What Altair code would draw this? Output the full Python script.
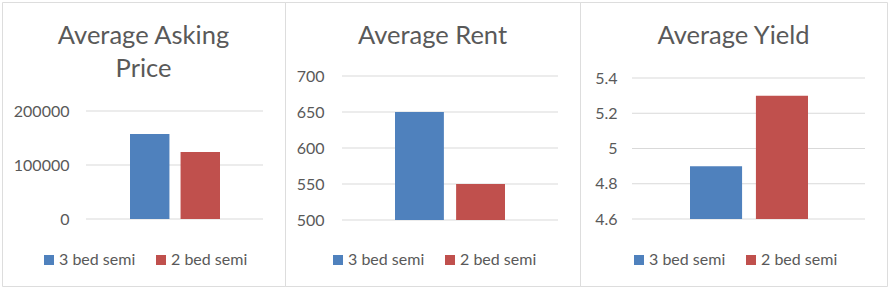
import altair as alt
import pandas as pd

series = ["3 bed semi", "2 bed semi"]
colors = ["#4F81BD", "#C0504D"]

titles = ["Average Asking\nPrice", "Average Rent", "Average Yield"]

price_values = [157400, 124100]
rent_values = [650, 550]
yield_values = [4.9, 5.3]

price_ticks = [0, 100000, 200000]
rent_ticks = [500, 550, 600, 650, 700]
yield_ticks = [4.6, 4.8, 5.0, 5.2, 5.4]

FONT = "Lato"
GREY = "#595959"


def panel(title, values, ticks, fmt, width, xrange, pad_inner, yrange, grid_x, label_edge, legend_x):
    bars_df = pd.DataFrame({"series": series, "value": values})
    ticks_df = pd.DataFrame({"tick": ticks})
    title_df = pd.DataFrame({"t": [title]})
    yscale = alt.Scale(domain=[ticks[0], ticks[-1]], range=yrange, zero=False, nice=False)

    def yaxis():
        return alt.Axis(values=ticks, format=fmt, grid=False, domain=False,
                        ticks=False, tickSize=0, labelPadding=0, offset=-label_edge,
                        labelFont=FONT, labelFontSize=16, labelColor=GREY, title=None)

    grid = alt.Chart(ticks_df).mark_rule(color="#d9d9d9", strokeWidth=1).encode(
        y=alt.Y("tick:Q", scale=yscale, axis=yaxis()),
        x=alt.value(grid_x[0]),
        x2=alt.value(grid_x[1]),
    )

    bars = alt.Chart(bars_df).mark_bar().encode(
        x=alt.X("series:N", sort=series,
                scale=alt.Scale(range=xrange, paddingInner=pad_inner, paddingOuter=0),
                axis=None),
        y=alt.Y("value:Q", scale=yscale, axis=yaxis()),
        y2=alt.datum(ticks[0]),
        color=alt.Color("series:N", sort=series,
                        scale=alt.Scale(domain=series, range=colors),
                        legend=alt.Legend(orient="none", legendX=legend_x, legendY=250,
                                          direction="horizontal", title=None,
                                          symbolType="square", symbolSize=100,
                                          symbolStrokeWidth=0, labelFont=FONT,
                                          labelFontSize=16, labelColor=GREY,
                                          labelOffset=2, columnPadding=17, padding=0)),
    )

    head = alt.Chart(title_df).mark_text(
        font=FONT, fontSize=25.5, color=GREY, align="center", baseline="alphabetic",
        lineBreak="\n", lineHeight=33,
    ).encode(
        text="t:N",
        x=alt.value(width / 2),
        y=alt.value(42),
    )

    return alt.layer(grid, bars, head).properties(width=width, height=284)


p1 = panel(titles[0], price_values, price_ticks, "d", 283,
           [128, 218], 0.22, [217, 109], [84, 261], 67, 39)
p2 = panel(titles[1], rent_values, rent_ticks, "d", 295,
           [110, 220], 0.2, [218, 74], [57, 273], 39, 45)
p3 = panel(titles[2], yield_values, yield_ticks, "~g", 307,
           [110, 228], 0.21, [217, 76], [52, 285], 37, 51)

chart = alt.hconcat(p1, p2, p3, spacing=0, bounds="flush").resolve_scale(
    y="independent", x="independent", color="independent"
).properties(
    padding={"left": 1, "top": 1, "right": 0, "bottom": 0}
).configure_view(
    stroke="#d9d9d9", strokeWidth=2
).configure(background="white")

chart.save("out.html", embed_options={"renderer": "svg", "actions": False})
